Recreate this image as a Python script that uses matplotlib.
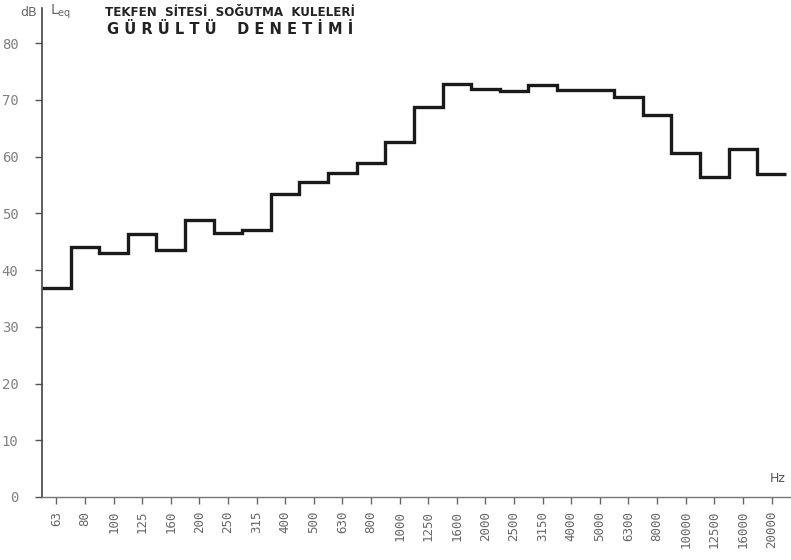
import matplotlib
matplotlib.use("Agg")
import matplotlib.pyplot as plt
import numpy as np

bands = ["63", "80", "100", "125", "160", "200", "250", "315", "400", "500",
         "630", "800", "1000", "1250", "1600", "2000", "2500", "3150", "4000",
         "5000", "6300", "8000", "10000", "12500", "16000", "20000"]
leq = [36.8, 44.1, 43.1, 46.3, 43.6, 48.8, 46.6, 47.0, 53.5, 55.5,
       57.2, 58.9, 62.5, 68.7, 72.8, 71.9, 71.5, 72.7, 71.8, 71.7,
       70.5, 67.3, 60.7, 56.4, 61.3, 57.0]
y_ticks = [0, 10, 20, 30, 40, 50, 60, 70, 80]

fig = plt.figure(figsize=(7.91, 5.60), dpi=100)
ax = fig.add_axes([42/791, 63/560, 751/791, 489/560])

edges = np.arange(len(bands) + 1)
ax.stairs(leq, edges, baseline=None, color="#1a1a1a", linewidth=2.4)

ax.set_xlim(0, 26.25)
ax.set_ylim(0, 86.2)

ax.spines["top"].set_visible(False)
ax.spines["right"].set_visible(False)
ax.spines["left"].set_color("#444444")
ax.spines["bottom"].set_color("#777777")
ax.spines["left"].set_linewidth(1.2)
ax.spines["bottom"].set_linewidth(1.0)

ax.set_yticks(y_ticks)
ax.set_yticklabels([str(v) for v in y_ticks], fontfamily="DejaVu Sans Mono",
                   fontsize=10, color="#808080")
ax.tick_params(axis="y", direction="out", length=5, width=1, color="#555555", pad=12)

ax.set_xticks(np.arange(len(bands)) + 0.5)
ax.set_xticklabels(bands, rotation=90, fontfamily="DejaVu Sans Mono",
                   fontsize=9, color="#666666")
ax.tick_params(axis="x", direction="out", length=5, width=1, color="#666666", pad=5)

fig.text(20/791, 1 - 12/560, "dB", fontsize=9, color="#666666", va="center", ha="left")
fig.text(50/791, 1 - 12/560, r"L$_{\mathregular{eq}}$", fontsize=10, color="#666666",
         va="center", ha="left")
fig.text(105/791, 1 - 13/560, "TEKFEN  SİTESİ  SOĞUTMA  KULELERİ", fontsize=8.6,
         fontweight="bold", color="#222222", va="center", ha="left")
fig.text(107/791, 1 - 29/560, "G Ü R Ü L T Ü    D E N E T İ M İ", fontsize=10.5,
         fontweight="bold", color="#222222", va="center", ha="left")
fig.text(770/791, 1 - 478/560, "Hz", fontsize=9, color="#555555", va="center", ha="left")

fig.savefig("out.png", dpi=100, facecolor="white")
